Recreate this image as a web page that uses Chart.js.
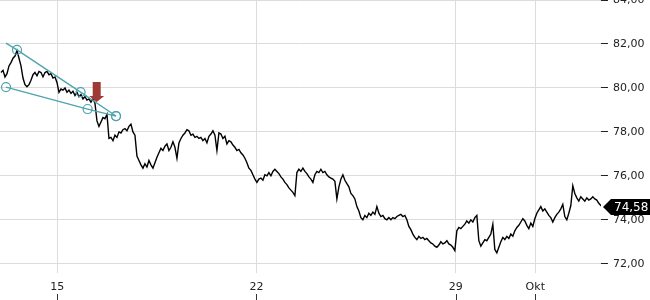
<!DOCTYPE html>
<html>
<head>
<meta charset="utf-8">
<script src="https://cdn.jsdelivr.net/npm/chart.js@4.4.1/dist/chart.umd.min.js"></script>
<style>
  html, body { margin: 0; padding: 0; background: #fff; }
  #wrap { width: 650px; height: 300px; position: relative; overflow: hidden; }
</style>
</head>
<body>
<div id="wrap"><canvas id="chart"></canvas></div>
<script>
// x axis = trading days, 0 = Monday 15 Sept
const dayTicks = [0, 5, 10, 12];
const dayLabels = ["15", "22", "29", "Okt"];
const priceTicks = [72, 74, 76, 78, 80, 82, 84];

// intraday samples, first one at firstDay, then one every dayStep
const firstDay = -1.415;
const dayStep = 0.0502;
const prices = [
	80.7, 80.8, 80.5, 80.65, 81.0, 81.15, 81.35, 81.45, 81.7, 81.35, 81.0, 80.45, 80.15, 80.05, 80.15, 80.35, 80.6, 80.7, 80.55, 80.75,
	80.7, 80.5, 80.7, 80.75, 80.6, 80.65, 80.45, 80.5, 80.25, 79.8, 79.95, 79.9, 80.0, 79.8, 79.9, 79.75, 79.85, 79.65, 79.8, 79.6,
	79.7, 79.5, 79.6, 79.45, 79.5, 79.35, 79.5, 79.3, 78.5, 78.25, 78.45, 78.65, 78.6, 78.8, 77.7, 77.75, 77.6, 77.85, 77.75, 78.0,
	77.95, 78.1, 78.15, 78.05, 78.25, 78.35, 78.0, 77.85, 76.9, 76.7, 76.5, 76.35, 76.55, 76.4, 76.7, 76.5, 76.35, 76.6, 76.85, 77.05,
	77.25, 77.15, 77.35, 77.45, 77.15, 77.3, 77.55, 77.3, 76.8, 77.5, 77.7, 77.85, 77.95, 78.1, 78.05, 77.85, 77.9, 77.75, 77.8, 77.7,
	77.75, 77.6, 77.7, 77.5, 77.8, 77.9, 78.05, 77.85, 77.15, 77.95, 77.9, 77.7, 77.8, 77.45, 77.6, 77.55, 77.4, 77.3, 77.15, 77.2,
	77.05, 76.95, 76.8, 76.6, 76.35, 76.25, 76.05, 75.85, 75.7, 75.85, 75.9, 75.8, 76.05, 76.0, 76.15, 76.0, 76.2, 76.3, 76.2, 76.1,
	75.95, 75.85, 75.7, 75.6, 75.45, 75.35, 75.25, 75.1, 76.15, 76.3, 76.2, 76.35, 76.2, 76.1, 75.95, 75.85, 75.7, 76.05, 76.2, 76.15,
	76.3, 76.15, 76.2, 76.05, 75.95, 75.9, 75.85, 75.75, 74.95, 75.5, 75.85, 76.05, 75.8, 75.65, 75.5, 75.2, 75.1, 74.95, 74.6, 74.4,
	74.1, 74.0, 74.2, 74.1, 74.3, 74.2, 74.35, 74.25, 74.6, 74.3, 74.15, 74.2, 74.05, 74.0, 74.1, 74.0, 74.1, 74.05, 74.15, 74.2,
	74.25, 74.15, 74.2, 74.0, 73.7, 73.55, 73.35, 73.2, 73.1, 73.25, 73.15, 73.2, 73.1, 73.15, 73.05, 72.95, 72.9, 72.8, 72.75, 72.85,
	73.0, 72.9, 72.95, 73.05, 72.9, 72.85, 72.75, 72.6, 73.5, 73.65, 73.6, 73.7, 73.8, 73.95, 73.85, 74.0, 73.9, 74.1, 74.2, 73.05,
	72.8, 72.95, 73.1, 73.05, 73.2, 73.35, 73.8, 72.65, 72.5, 72.75, 73.0, 73.2, 73.1, 73.25, 73.15, 73.35, 73.25, 73.5, 73.65, 73.75,
	73.9, 74.05, 73.95, 73.75, 73.6, 73.85, 73.7, 74.05, 74.3, 74.45, 74.6, 74.4, 74.5, 74.35, 74.2, 74.1, 73.9, 74.1, 74.25, 74.35,
	74.5, 74.7, 74.15, 74.0, 74.3, 74.65, 75.55, 75.2, 75.0, 74.85, 75.05, 74.95, 74.85, 75.0, 74.9, 74.95, 75.05, 74.95, 74.9, 74.75,
	74.65, 74.58
];

// drawn trend lines (wedge)
const upperLineDays = [-1.289, -1.013, 0.584, 1.473];
const upperLinePrices = [82.04, 81.73, 79.81, 78.72];
const upperLineMarks = [false, true, true, true];
const lowerLineDays = [-1.289, 0.760, 1.473];
const lowerLinePrices = [80.04, 79.04, 78.72];

// signal arrow tip
const arrowDay = 0.988;
const arrowPrice = 79.36;

const teal = "#4ea3ad";
const fmt = (v) => v.toFixed(2).replace(".", ",");

Chart.defaults.font.family = "'DejaVu Sans', sans-serif";
Chart.defaults.font.size = 11;
Chart.defaults.color = "#222";

let extras = {
	id: "extras",
	afterDatasetsDraw(chart) {
		const ctx = chart.ctx;
		const x = chart.scales.x;
		const y = chart.scales.y;
		// red arrow
		const ax = x.getPixelForValue(arrowDay);
		const ay = y.getPixelForValue(arrowPrice);
		ctx.save();
		ctx.fillStyle = "#9e3a33";
		ctx.beginPath();
		ctx.moveTo(ax - 4, ay - 20);
		ctx.lineTo(ax + 4, ay - 20);
		ctx.lineTo(ax + 4, ay - 6);
		ctx.lineTo(ax + 7.5, ay - 6);
		ctx.lineTo(ax, ay);
		ctx.lineTo(ax - 7.5, ay - 6);
		ctx.lineTo(ax - 4, ay - 6);
		ctx.closePath();
		ctx.fill();
		ctx.restore();
	},
	afterDraw(chart) {
		const ctx = chart.ctx;
		const x = chart.scales.x;
		const y = chart.scales.y;
		ctx.save();
		// small tick marks under the day labels
		ctx.strokeStyle = "#333";
		ctx.lineWidth = 1;
		x.ticks.forEach((t) => {
			const px = Math.round(x.getPixelForValue(t.value)) + 0.5;
			ctx.beginPath();
			ctx.moveTo(px, 294);
			ctx.lineTo(px, 300);
			ctx.stroke();
		});
		// last price tag
		const last = prices[prices.length - 1];
		const py = y.getPixelForValue(last);
		const left = chart.chartArea.right + 2;
		ctx.fillStyle = "#000";
		ctx.beginPath();
		ctx.moveTo(left, py);
		ctx.lineTo(left + 8, py - 8);
		ctx.lineTo(650, py - 8);
		ctx.lineTo(650, py + 8);
		ctx.lineTo(left + 8, py + 8);
		ctx.closePath();
		ctx.fill();
		ctx.fillStyle = "#fff";
		ctx.font = "12px 'DejaVu Sans', sans-serif";
		ctx.textBaseline = "middle";
		ctx.textAlign = "left";
		ctx.fillText(fmt(last), left + 11, py + 0.5);
		ctx.restore();
	}
};

const config = {
	type: "line",
	data: {
		datasets: [
			{
				label: "upper",
				data: upperLineDays.map((d, i) => ({ x: d, y: upperLinePrices[i] })),
				borderColor: teal,
				borderWidth: 1.3,
				pointRadius: upperLineMarks.map(m => m ? 4.5 : 0),
				pointBorderColor: teal,
				pointBorderWidth: 1.2,
				pointBackgroundColor: "rgba(0,0,0,0)"
			},
			{
				label: "lower",
				data: lowerLineDays.map((d, i) => ({ x: d, y: lowerLinePrices[i] })),
				borderColor: teal,
				borderWidth: 1.3,
				pointRadius: 4.5,
				pointBorderColor: teal,
				pointBorderWidth: 1.2,
				pointBackgroundColor: "rgba(0,0,0,0)"
			},
			{
				label: "price",
				data: prices.map((p, i) => ({ x: firstDay + i * dayStep, y: p })),
				borderColor: "#000",
				borderWidth: 1.4,
				pointRadius: 0,
				tension: 0
			}
		]
	},
	options: {
		responsive: true,
		maintainAspectRatio: false,
		animation: false,
		layout: { padding: 0, autoPadding: false },
		plugins: {
			legend: { display: false },
			tooltip: { enabled: false }
		},
		scales: {
			x: {
				type: "linear",
				min: -1.44,
				max: 13.65,
				afterBuildTicks: (s) => { s.ticks = dayTicks.map(v => ({ value: v })); },
				afterFit: (s) => { s.height = 27; s.paddingLeft = 0; s.paddingRight = 0; },
				ticks: {
					autoSkip: false,
					maxRotation: 0,
					padding: 8,
					callback: (v, i) => dayLabels[i]
				},
				grid: { color: "#dcdcdc", drawTicks: false },
				border: { display: false }
			},
			y: {
				position: "right",
				min: 71.58,
				max: 84,
				afterBuildTicks: (s) => { s.ticks = priceTicks.map(v => ({ value: v })); },
				afterFit: (s) => { s.width = 49; s.paddingTop = 0; s.paddingBottom = 0; },
				ticks: {
					padding: 5,
					callback: (v) => fmt(v)
				},
				grid: { color: "#dcdcdc", tickColor: "#222", tickLength: 7 },
				border: { display: false }
			}
		}
	},
	plugins: [extras]
};

new Chart(document.getElementById("chart"), config);
</script>
</body>
</html>
